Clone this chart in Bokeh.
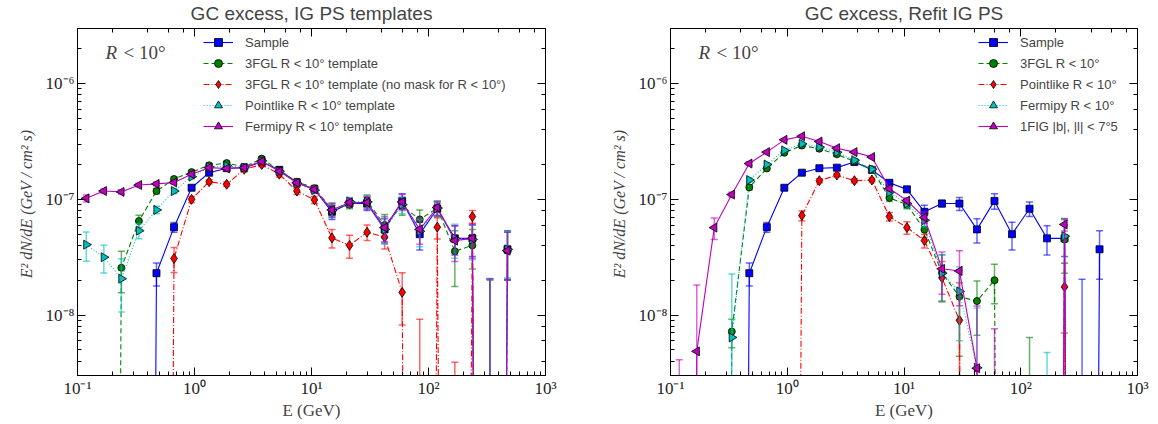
from bokeh.plotting import figure
from bokeh.layouts import row
from bokeh.models import (LogAxis, Legend, LegendItem, Label, CustomJSTickFormatter)
from bokeh.embed import file_html
from bokeh.resources import INLINE

# ---------------- data ----------------
energy_gev = [0.1189, 0.1679, 0.2371, 0.3350, 0.4732, 0.6683, 0.9441, 1.334, 1.884,
              2.661, 3.758, 5.309, 7.499, 10.59, 14.96, 21.13, 29.85, 42.17, 59.57,
              84.14, 118.9, 167.9, 237.1, 335.0, 473.2]

# None = non-positive value (drawn below the axis)
sample_flux = [None, None, None, None, 2.3e-8, 5.75e-8, 1.26e-7, 1.70e-7, 1.86e-7, 1.88e-7,
               2.1e-7, 1.8e-7, 1.39e-7, 1.22e-7, 7.8e-8, 9.2e-8, 9.2e-8, 5.5e-8, 9.7e-8,
               5.0e-8, 8.3e-8, 4.6e-8, 4.6e-8, None, 3.7e-8]
sample_err = [0, 0, 0, 0, 0.52e-8, 0.55e-8, 0.5e-8, 0.6e-8, 0.7e-8, 0.8e-8, 0.9e-8, 0.9e-8,
              0.6e-8, 0.6e-8, 1.1e-8, 0.6e-8, 1.2e-8, 1.3e-8, 1.5e-8, 1.35e-8, 1.2e-8, 1.3e-8,
              1.4e-8, 2.04e-8, 1.66e-8]

# left panel: IG PS templates
tmpl_3fgl_flux = [None, None, 2.56e-8, 6.5e-8, 1.18e-7, 1.5e-7, 1.72e-7, 1.97e-7, 2.06e-7,
                  1.9e-7, 2.25e-7, 1.78e-7, 1.42e-7, 1.25e-7, 8.2e-8, 9.0e-8, 9.7e-8, 6.0e-8,
                  8.8e-8, 6.7e-8, 8.4e-8, 3.56e-8, 4.0e-8, None, 3.6e-8]
tmpl_3fgl_err = [0, 0, 1.0e-8, 0.8e-8, 0.6e-8, 0.6e-8, 0.6e-8, 0.6e-8, 0.7e-8, 0.8e-8, 0.9e-8,
                 0.9e-8, 0.8e-8, 0.7e-8, 1.1e-8, 0.7e-8, 1.2e-8, 1.4e-8, 1.5e-8, 1.4e-8, 1.2e-8,
                 1.8e-8, 1.5e-8, 2.0e-8, 1.6e-8]

tmpl_nomask_flux = [None, None, None, None, None, 3.08e-8, 1.0e-7, 1.42e-7, 1.35e-7, 1.82e-7,
                    2.0e-7, 1.65e-7, 1.18e-7, 9.9e-8, 4.64e-8, 4.0e-8, 5.2e-8, 4.72e-8, 1.57e-8,
                    None, 5.75e-8, None, 7.1e-8, None, None]
tmpl_nomask_err = [0, 0, 0, 0, 0, 0.75e-8, 0.6e-8, 0.6e-8, 0.6e-8, 0.8e-8, 0.9e-8, 0.9e-8,
                   0.8e-8, 0.7e-8, 0.85e-8, 0.9e-8, 0.8e-8, 1.0e-8, 0.75e-8, 0.92e-8, 1.2e-8,
                   0.39e-8, 0.9e-8, 0, 0]

tmpl_pointlike_flux = [4.06e-8, 3.16e-8, 2.06e-8, 5.36e-8, 8.1e-8, 1.18e-7, 1.57e-7, 1.9e-7,
                       1.95e-7, 1.88e-7, 2.15e-7, 1.75e-7, 1.38e-7, 1.2e-7, 8.0e-8, 9.6e-8,
                       9.5e-8, 5.5e-8, 9.0e-8, 5.3e-8, 8.4e-8, 4.6e-8, 4.5e-8, None, 3.7e-8]
tmpl_pointlike_err = [1.15e-8, 0.85e-8, 1.0e-8, 0.8e-8, 0.6e-8, 0.6e-8, 0.6e-8, 0.6e-8, 0.7e-8,
                      0.8e-8, 0.9e-8, 0.9e-8, 0.8e-8, 0.7e-8, 1.1e-8, 0.8e-8, 1.2e-8, 1.4e-8,
                      1.5e-8, 1.4e-8, 1.2e-8, 1.5e-8, 1.5e-8, 2.05e-8, 1.6e-8]

tmpl_fermipy_flux = [1.02e-7, 1.18e-7, 1.16e-7, 1.33e-7, 1.36e-7, 1.40e-7, 1.65e-7, 1.88e-7,
                     1.85e-7, 1.88e-7, 2.13e-7, 1.75e-7, 1.39e-7, 1.22e-7, 8.1e-8, 9.4e-8,
                     9.4e-8, 5.7e-8, 9.5e-8, 5.5e-8, 8.5e-8, 4.4e-8, 4.6e-8, None, 3.6e-8]
tmpl_fermipy_err = [0.7e-8, 0.5e-8, 0.5e-8, 0.5e-8, 0.5e-8, 0.5e-8, 0.6e-8, 0.6e-8, 0.7e-8,
                    0.8e-8, 0.9e-8, 0.9e-8, 0.8e-8, 0.7e-8, 1.1e-8, 0.8e-8, 1.2e-8, 1.4e-8,
                    1.5e-8, 1.4e-8, 1.2e-8, 1.5e-8, 1.5e-8, 2.07e-8, 1.6e-8]

# right panel: refit IG PS
refit_3fgl_flux = [None, None, None, 7.2e-9, 1.27e-7, 1.85e-7, 2.53e-7, 2.92e-7, 2.74e-7,
                   2.45e-7, 2.13e-7, 1.82e-7, 1.03e-7, 9.0e-8, 5.47e-8, 2.32e-8, 1.44e-8,
                   1.32e-8, 2.0e-8, None, None, None, 4.5e-8, None, None]
refit_3fgl_err = [0, 0, 0, 0.2e-8, 0.6e-8, 0.6e-8, 0.7e-8, 0.8e-8, 0.8e-8, 0.8e-8, 0.8e-8,
                  0.8e-8, 0.7e-8, 0.7e-8, 0.8e-8, 1.0e-8, 1.0e-8, 0.65e-8, 0.75e-8, 0, 0.64e-8,
                  0, 2.2e-8, 0, 0]

refit_pointlike_flux = [None, None, None, None, None, None, None, 7.24e-8, 1.45e-7, 1.62e-7,
                        1.45e-7, 1.47e-7, 7.1e-8, 5.7e-8, 4.4e-8, 2.1e-8, 9.0e-9, None, None,
                        None, None, None, 1.75e-8, None, None]
refit_pointlike_err = [0, 0, 0, 0, 0, 0, 0, 0.7e-8, 0.6e-8, 0.6e-8, 0.6e-8, 0.6e-8, 0.6e-8,
                       0.7e-8, 0.6e-8, 0.8e-8, 1.0e-8, 0, 0, 0, 0, 0, 1.05e-8, 0, 0]

refit_fermipy_flux = [None, None, None, 6.4e-9, 1.47e-7, 2.0e-7, 2.65e-7, 3.02e-7, 2.83e-7,
                      2.56e-7, 2.18e-7, 1.82e-7, 1.15e-7, 9.2e-8, 6.6e-8, 2.3e-8, 1.6e-8,
                      3.5e-9, None, None, None, None, 4.8e-8, None, None]
refit_fermipy_err = [0, 0, 0, 1.62e-8, 0.6e-8, 0.6e-8, 0.7e-8, 0.8e-8, 0.8e-8, 0.8e-8, 0.8e-8,
                     0.8e-8, 0.7e-8, 0.7e-8, 0.8e-8, 1.0e-8, 1.0e-8, 0.8e-8, 0, 0, 0, 0.475e-8,
                     2.0e-8, 0, 0]

refit_1fig_flux = [None, 4.85e-9, 5.7e-8, 1.1e-7, 2.04e-7, 2.56e-7, 3.27e-7, 3.51e-7, 3.16e-7,
                   2.77e-7, 2.56e-7, 2.32e-7, 1.24e-7, 9.75e-8, 6.97e-8, 2.51e-8, 2.4e-8,
                   3.47e-9, None, None, None, None, 6.07e-8, None, None]
refit_1fig_err = [0.41e-8, 1.33e-8, 1.2e-8, 0.5e-8, 0.7e-8, 0.6e-8, 0.6e-8, 0.6e-8, 0.6e-8,
                  0.6e-8, 0.6e-8, 0.6e-8, 0.6e-8, 0.6e-8, 0.8e-8, 1.0e-8, 1.2e-8, 0.85e-8,
                  0.76e-8, 0, 0, 0, 0.75e-8, 0, 0]

left_labels = ["Sample", "3FGL R < 10° template",
               "3FGL R < 10° template (no mask for R < 10°)",
               "Pointlike R < 10° template", "Fermipy R < 10° template"]
right_labels = ["Sample", "3FGL R < 10°", "Pointlike R < 10°", "Fermipy R < 10°",
                "1FIG |b|, |l| < 7°5"]

# ---------------- styling ----------------
FLOOR = 1e-30
BLUE, GREEN, RED, CYAN, MAGENTA = "#0000ff", "#008000", "#ff0000", "#00bfbf", "#bf00bf"
STYLES = [  # color, marker, dash, angle, size
    (BLUE, "square", "solid", 0.0, 7),
    (GREEN, "circle", "5 3", 0.0, 7),
    (RED, "diamond", "6 2 1 2", 0.0, 10),
    (CYAN, "triangle", "1 2", -1.5708, 9),
    (MAGENTA, "triangle", "solid", 1.5708, 9),
]
SERIF = "Liberation Serif"
SANS = "Liberation Sans"

sup_js = """
const sup = {'-':'\u207b','0':'\u2070','1':'\u00b9','2':'\u00b2','3':'\u00b3','4':'\u2074',
             '5':'\u2075','6':'\u2076','7':'\u2077','8':'\u2078','9':'\u2079'};
const e = Math.round(Math.log10(tick));
return '10' + String(e).split('').map(c => sup[c]).join('');
"""
blank_js = "return ' ';"


def style_axis(ax, labels=True):
    ax.major_tick_in = 8
    ax.major_tick_out = 0
    ax.minor_tick_in = 4
    ax.minor_tick_out = 0
    ax.axis_line_color = "black"
    ax.major_tick_line_color = "black"
    ax.minor_tick_line_color = "black"
    if labels:
        ax.formatter = CustomJSTickFormatter(code=sup_js)
        ax.major_label_text_font = SERIF
        ax.major_label_text_font_size = "17px"
        ax.major_label_text_color = "#222222"
        ax.major_label_standoff = 3
    else:
        ax.formatter = CustomJSTickFormatter(code=blank_js)
        ax.major_label_text_font_size = "2px"
        ax.major_label_standoff = 0


def add_series(p, flux, err, style):
    color, marker, dash, angle, size = style
    line_y = [v if v is not None else FLOOR for v in flux]
    lr = p.line(energy_gev, line_y, line_color=color, line_width=1.1, line_dash=dash)
    bx, blo, bhi = [], [], []
    for e, v, s in zip(energy_gev, flux, err):
        base = v if v is not None else 0.0
        if s and base + s > 0:
            bx.append(e)
            bhi.append(base + s)
            blo.append(base - s if base - s > 0 else FLOOR)
    p.segment(x0=bx, y0=blo, x1=bx, y1=bhi, line_color=color, line_alpha=0.6, line_width=1.5)
    p.scatter(bx, bhi, marker="dash", size=7, line_color=color, line_alpha=0.6, line_width=1.5)
    cx = [x for x, lo in zip(bx, blo) if lo > FLOOR]
    cy = [lo for lo in blo if lo > FLOOR]
    p.scatter(cx, cy, marker="dash", size=7, line_color=color, line_alpha=0.6, line_width=1.5)
    mx = [e for e, v in zip(energy_gev, flux) if v is not None]
    my = [v for v in flux if v is not None]
    sr = p.scatter(mx, my, marker=marker, size=size, fill_color=color, line_color="black",
                   line_width=0.8, angle=angle)
    return [lr, sr]


def make_panel(title, series, labels, width, border_left, border_right, legend_x):
    p = figure(width=width, height=422, x_axis_type="log", y_axis_type="log",
               x_range=(0.1, 1000), y_range=(3e-9, 3e-6), output_backend="svg",
               toolbar_location=None, min_border_left=border_left,
               min_border_right=border_right, min_border_top=25, min_border_bottom=46)
    p.title.text = title
    p.title.align = "center"
    p.title.text_font = SANS
    p.title.text_font_size = "19px"
    p.title.text_font_style = "normal"
    p.title.standoff = 0
    p.xgrid.visible = False
    p.ygrid.visible = False
    p.outline_line_color = "black"
    p.outline_line_width = 1
    p.background_fill_color = "white"
    p.border_fill_color = "white"
    top = LogAxis()
    right = LogAxis()
    p.add_layout(top, "above")
    p.add_layout(right, "right")
    style_axis(p.below[0])
    style_axis(p.left[0])
    style_axis(top, labels=False)
    style_axis(right, labels=False)
    p.below[0].axis_label = "E (GeV)"
    p.below[0].axis_label_text_font = SERIF
    p.below[0].axis_label_text_font_size = "17px"
    p.below[0].axis_label_text_font_style = "normal"
    p.below[0].axis_label_standoff = 0
    p.left[0].axis_label = "E² dN/dE  (GeV / cm² s)"
    p.left[0].axis_label_text_font = SERIF
    p.left[0].axis_label_text_font_size = "16px"
    p.left[0].axis_label_text_font_style = "italic"
    p.left[0].axis_label_standoff = 8

    items = []
    for (flux, err), style, lab in zip(series, STYLES, labels):
        rs = add_series(p, flux, err, style)
        items.append(LegendItem(label=lab, renderers=rs))
    leg = Legend(items=items, location=(legend_x, 239), glyph_width=30, glyph_height=20,
                 label_height=20, spacing=1, padding=0, margin=0, label_standoff=12,
                 label_text_font=SANS, label_text_font_size="13px",
                 background_fill_alpha=0, border_line_alpha=0)
    p.add_layout(leg)
    p.add_layout(Label(x=28, y=313, x_units="screen", y_units="screen", text="R",
                       text_font=SERIF, text_font_style="italic", text_font_size="19px"))
    p.add_layout(Label(x=46, y=313, x_units="screen", y_units="screen", text="< 10°",
                       text_font=SERIF, text_font_size="19px"))
    return p


left_series = [(sample_flux, sample_err), (tmpl_3fgl_flux, tmpl_3fgl_err),
               (tmpl_nomask_flux, tmpl_nomask_err), (tmpl_pointlike_flux, tmpl_pointlike_err),
               (tmpl_fermipy_flux, tmpl_fermipy_err)]
right_series = [(sample_flux, sample_err), (refit_3fgl_flux, refit_3fgl_err),
                (refit_pointlike_flux, refit_pointlike_err),
                (refit_fermipy_flux, refit_fermipy_err), (refit_1fig_flux, refit_1fig_err)]

p1 = make_panel("GC excess, IG PS templates", left_series, left_labels, 568, 77, 23, 126)
p2 = make_panel("GC excess, Refit IG PS", right_series, right_labels, 582, 102, 13, 308)

layout = row(p1, p2)
open("out.html", "w").write(file_html(layout, INLINE))
